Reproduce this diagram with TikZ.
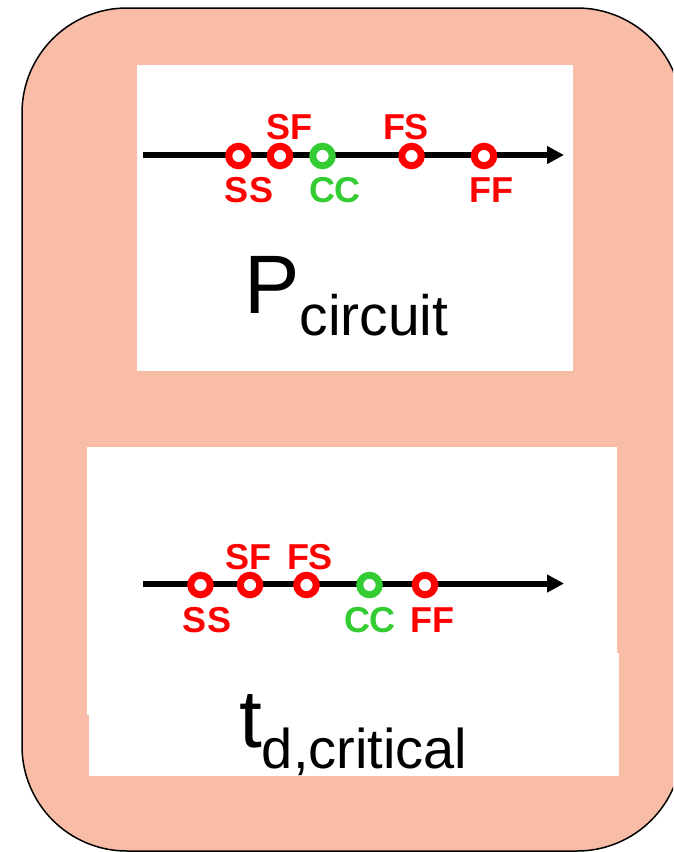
\documentclass[tikz,border=0pt]{standalone}
\usepackage{fontspec}
\setmainfont{Liberation Sans}
\usetikzlibrary{arrows.meta}
\definecolor{salmon}{RGB}{248,188,167}
\definecolor{ptred}{RGB}{255,0,0}
\definecolor{ptgreen}{RGB}{51,204,51}
\tikzset{
  axisline/.style={line width=6pt, -{Triangle[length=17pt,width=17pt]}},
  ring/.style={circle, draw=#1, fill=white, line width=7pt, minimum size=19.5pt, inner sep=0pt},
  lbl/.style={anchor=base, inner sep=0pt, text=#1, font=\fontsize{36}{36}\selectfont\bfseries},
  whitebox/.style={fill=white, draw=none},
}
\begin{document}
\begin{tikzpicture}[x=1pt,y=-1pt]
\useasboundingbox (0,0) rectangle (673,852);
\clip (0,0) rectangle (673,852);
% outer frame (right side runs off the picture)
\fill[salmon]
  (682,113) arc[start angle=0, end angle=90, radius=105pt] -- (127,8)
  arc[start angle=90, end angle=180, radius=105pt] -- (22,746)
  arc[start angle=180, end angle=270, radius=105pt] -- (577,851)
  arc[start angle=270, end angle=360, radius=105pt] -- cycle;
\draw[line width=1.5pt]
  (682,113) arc[start angle=0, end angle=90, radius=105pt] -- (127,8)
  arc[start angle=90, end angle=180, radius=105pt] -- (22,746)
  arc[start angle=180, end angle=270, radius=105pt] -- (577,851)
  arc[start angle=270, end angle=360, radius=105pt];
% white panels
\fill[whitebox] (137,65) rectangle (573,371);
\fill[whitebox] (87,447) rectangle (617,715);
\fill[whitebox] (89,653) rectangle (619,776);

% upper axis
\coordinate (ua) at (143,155);
\coordinate (ub) at (564,155);
\draw[axisline] (ua) -- (ub);
\node[ring=ptred]   (uss) at (238.5,156) {};
\node[ring=ptred]   (usf) at (280,156) {};
\node[ring=ptgreen] (ucc) at (322.5,156) {};
\node[ring=ptred]   (ufs) at (411.5,156) {};
\node[ring=ptred]   (uff) at (484,156) {};
\node[lbl=ptred]   (lusf) at (289.5,139) {SF};
\node[lbl=ptred]   (lufs) at (406,139) {FS};
\node[lbl=ptred]   (luss) at (249,202) {SS};
\node[lbl=ptgreen] (lucc) at (335,202) {CC};
\node[lbl=ptred]   (luff) at (491,202) {FF};
\node[anchor=base west, inner sep=0pt] (ptext) at (244,313)
  {\fontsize{83}{83}\selectfont P\raisebox{-22pt}{\fontsize{57}{57}\selectfont circuit}};

% lower axis
\coordinate (la) at (143,583.5);
\coordinate (lb) at (564,583.5);
\draw[axisline] (la) -- (lb);
\node[ring=ptred]   (lss) at (200.5,585) {};
\node[ring=ptred]   (lsf) at (250,585) {};
\node[ring=ptred]   (lfs) at (306.5,585) {};
\node[ring=ptgreen] (lcc) at (369.5,585) {};
\node[ring=ptred]   (lff) at (425,585) {};
\node[lbl=ptred]   (llsf) at (248,569) {SF};
\node[lbl=ptred]   (llfs) at (310,569) {FS};
\node[lbl=ptred]   (llss) at (207,632) {SS};
\node[lbl=ptgreen] (llcc) at (370,632) {CC};
\node[lbl=ptred]   (llff) at (432,632) {FF};
\node[anchor=base west, inner sep=0pt] (tdtext) at (239,747)
  {\fontsize{82}{82}\selectfont t\raisebox{-21pt}{\fontsize{56}{56}\selectfont d,critical}};
\end{tikzpicture}
\end{document}
